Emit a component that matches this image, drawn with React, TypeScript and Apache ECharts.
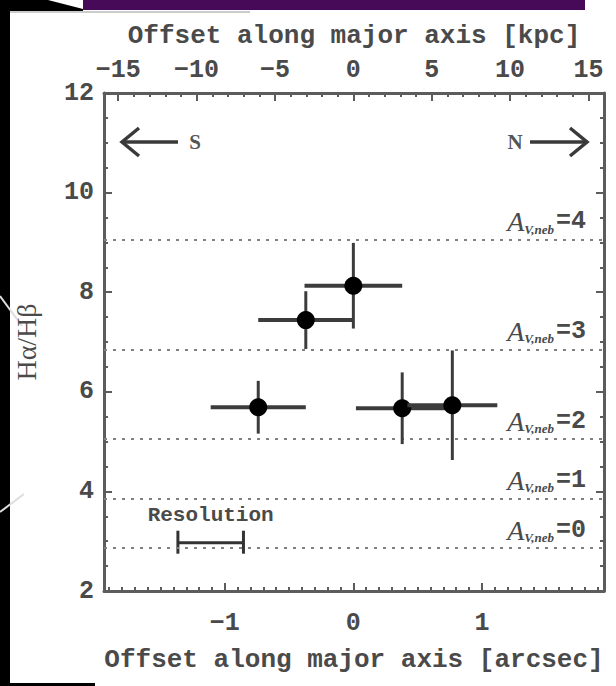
import React, { useEffect, useRef } from "react";
import * as echarts from "echarts";

// Axis ranges (arcsec along the major axis) and the angular scale
const arcsecMin = -1.94;
const arcsecMax = 1.95;
const kpcPerArcsec = 8.2;
const ratioMin = 2;
const ratioMax = 12;

// Balmer decrement measured in each aperture along the major axis
const offsetArcsec = [-0.74, -0.37, 0.0, 0.38, 0.77];
const offsetErr = [0.37, 0.37, 0.38, 0.36, 0.35];
const balmerRatio = [5.69, 7.44, 8.13, 5.67, 5.73];
const balmerErr = [0.53, 0.58, 0.86, 0.72, 1.1];

// Hα/Hβ expected for a given nebular extinction
const avLevels = [0, 1, 2, 3, 4];
const avRatio = [2.86, 3.86, 5.05, 6.85, 9.05];

// Spatial resolution (FWHM, arcsec) drawn as a scale bar
const resolutionFwhm = 0.51;
const resolutionCenter = -1.11;
const resolutionLevel = 2.97;

// Tick positions
const arcsecMajorTicks = [-1, 0, 1];
const arcsecMinorTicks = Array.from({ length: 39 }, (_, i) => Math.round((i - 19) * 10) / 100);
const kpcMajorTicks = [-15, -10, -5, 0, 5, 10, 15];
const kpcMinorTicks = Array.from({ length: 31 }, (_, i) => i - 15);

const MONO = "'Liberation Mono', 'DejaVu Sans Mono', monospace";
const SERIF = "'Liberation Serif', 'DejaVu Serif', serif";
const AXIS_COLOR = "#5c5c5c";
const TEXT_COLOR = "#4a4a4a";

const fmtSigned = (v: number) => (v < 0 ? "\u2212" + Math.abs(v) : String(v));

export default function App() {
  const ref = useRef<HTMLDivElement>(null);

  useEffect(() => {
    if (!ref.current) return;
    const chart = echarts.init(ref.current, null, { renderer: "svg" });

    const axisLine = { show: true, onZero: false, lineStyle: { color: AXIS_COLOR, width: 3 } };
    const noLine = { show: false, onZero: false };
    const hiddenLabel = { show: false };
    const labelFont = { fontFamily: MONO, fontSize: 25, fontWeight: "bold" as const, color: TEXT_COLOR };
    const titleFont = { fontFamily: MONO, fontSize: 26, fontWeight: "bold" as const, color: TEXT_COLOR };

    const points = offsetArcsec.map((x, i) => [x, balmerRatio[i], offsetErr[i], balmerErr[i]]);

    const option: echarts.EChartsOption = {
      animation: false,
      backgroundColor: "#fff",
      grid: { left: 104, top: 93, right: 12, bottom: 95, containLabel: false },
      xAxis: [
        {
          type: "value",
          position: "bottom",
          min: arcsecMin,
          max: arcsecMax,
          axisLine,
          splitLine: { show: false },
          axisTick: {
            show: true,
            inside: true,
            length: 8,
            customValues: arcsecMajorTicks,
            lineStyle: { color: AXIS_COLOR, width: 2 },
          },
          axisLabel: {
            show: true,
            customValues: arcsecMajorTicks,
            formatter: (v: number) => fmtSigned(v),
            margin: 20,
            ...labelFont,
          },
          name: "Offset along major axis [arcsec]",
          nameLocation: "middle",
          nameGap: 56,
          nameTextStyle: titleFont,
        },
        {
          type: "value",
          position: "top",
          min: arcsecMin * kpcPerArcsec,
          max: arcsecMax * kpcPerArcsec,
          axisLine,
          splitLine: { show: false },
          axisTick: {
            show: true,
            inside: true,
            length: 8,
            customValues: kpcMajorTicks,
            lineStyle: { color: AXIS_COLOR, width: 2 },
          },
          axisLabel: {
            show: true,
            customValues: kpcMajorTicks,
            formatter: (v: number) => fmtSigned(v),
            margin: 10,
            ...labelFont,
          },
          name: "Offset along major axis [kpc]",
          nameLocation: "middle",
          nameGap: 44,
          nameTextStyle: titleFont,
        },
        {
          type: "value",
          position: "bottom",
          min: arcsecMin,
          max: arcsecMax,
          axisLine: noLine,
          splitLine: { show: false },
          axisTick: {
            show: true,
            inside: true,
            length: 4,
            customValues: arcsecMinorTicks,
            lineStyle: { color: AXIS_COLOR, width: 2 },
          },
          axisLabel: hiddenLabel,
        },
        {
          type: "value",
          position: "top",
          min: arcsecMin * kpcPerArcsec,
          max: arcsecMax * kpcPerArcsec,
          axisLine: noLine,
          splitLine: { show: false },
          axisTick: {
            show: true,
            inside: true,
            length: 4,
            customValues: kpcMinorTicks,
            lineStyle: { color: AXIS_COLOR, width: 2 },
          },
          axisLabel: hiddenLabel,
        },
      ],
      yAxis: [
        {
          type: "value",
          position: "left",
          min: ratioMin,
          max: ratioMax,
          interval: 2,
          axisLine,
          splitLine: { show: false },
          axisTick: { show: true, inside: true, length: 8, lineStyle: { color: AXIS_COLOR, width: 2 } },
          minorTick: { show: true, splitNumber: 4, length: 4, lineStyle: { color: AXIS_COLOR, width: 2 } },
          minorSplitLine: { show: false },
          axisLabel: { show: true, margin: 10, ...labelFont },
          name: "H\u03b1/H\u03b2",
          nameLocation: "middle",
          nameRotate: 90,
          nameGap: 64,
          nameTextStyle: { fontFamily: SERIF, fontSize: 28, color: TEXT_COLOR },
        },
        {
          type: "value",
          position: "right",
          min: ratioMin,
          max: ratioMax,
          interval: 2,
          axisLine,
          splitLine: { show: false },
          axisTick: { show: true, inside: true, length: 8, lineStyle: { color: AXIS_COLOR, width: 2 } },
          minorTick: { show: true, splitNumber: 4, length: 4, lineStyle: { color: AXIS_COLOR, width: 2 } },
          minorSplitLine: { show: false },
          axisLabel: hiddenLabel,
        },
      ],
      series: [
        {
          type: "custom",
          name: "Balmer decrement",
          xAxisIndex: 0,
          yAxisIndex: 0,
          encode: { x: 0, y: 1 },
          data: points,
          z: 5,
          renderItem: (_params: any, api: any) => {
            const x = api.value(0);
            const y = api.value(1);
            const dx = api.value(2);
            const dy = api.value(3);
            const c = api.coord([x, y]);
            const l = api.coord([x - dx, y]);
            const r = api.coord([x + dx, y]);
            const t = api.coord([x, y + dy]);
            const b = api.coord([x, y - dy]);
            return {
              type: "group",
              children: [
                {
                  type: "line",
                  shape: { x1: l[0], y1: l[1], x2: r[0], y2: r[1] },
                  style: { stroke: "#3c3c3c", lineWidth: 4 },
                },
                {
                  type: "line",
                  shape: { x1: t[0], y1: t[1], x2: b[0], y2: b[1] },
                  style: { stroke: "#3c3c3c", lineWidth: 3 },
                },
                { type: "circle", shape: { cx: c[0], cy: c[1], r: 9 }, style: { fill: "#000" } },
              ],
            };
          },
          markLine: {
            silent: true,
            symbol: ["none", "none"],
            lineStyle: { type: [3, 6], color: "#808080", width: 2 },
            label: {
              show: true,
              position: "insideEndTop",
              distance: 4,
              padding: [0, 14, 0, 0],
              rich: {
                a: { fontFamily: SERIF, fontStyle: "italic", fontSize: 28, color: TEXT_COLOR, lineHeight: 28, verticalAlign: "middle" },
                s: { fontFamily: SERIF, fontStyle: "italic", fontWeight: "bold", fontSize: 13, color: TEXT_COLOR, lineHeight: 12, verticalAlign: "bottom", padding: [0, 2, 0, 0] },
                e: { fontFamily: MONO, fontSize: 25, fontWeight: "bold", color: TEXT_COLOR, lineHeight: 28, verticalAlign: "middle" },
              },
            },
            data: avLevels.map((av, i) => ({
              yAxis: avRatio[i],
              label: { formatter: `{a|A}{s|V,neb}{e|=${av}}` },
            })),
          },
        },
        {
          type: "custom",
          name: "Resolution",
          xAxisIndex: 0,
          yAxisIndex: 0,
          encode: { x: 0, y: 1 },
          data: [[resolutionCenter, resolutionLevel, resolutionFwhm]],
          z: 4,
          renderItem: (_params: any, api: any) => {
            const cx = api.value(0);
            const y = api.value(1);
            const w = api.value(2);
            const l = api.coord([cx - w / 2, y]);
            const r = api.coord([cx + w / 2, y]);
            const stroke = { stroke: "#333", lineWidth: 3 };
            return {
              type: "group",
              children: [
                { type: "line", shape: { x1: l[0], y1: l[1], x2: r[0], y2: r[1] }, style: stroke },
                { type: "line", shape: { x1: l[0], y1: l[1] - 12, x2: l[0], y2: l[1] + 11 }, style: stroke },
                { type: "line", shape: { x1: r[0], y1: r[1] - 12, x2: r[0], y2: r[1] + 11 }, style: stroke },
                {
                  type: "text",
                  style: {
                    text: "Resolution",
                    x: (l[0] + r[0]) / 2,
                    y: l[1] - 27,
                    align: "center",
                    verticalAlign: "middle",
                    font: `bold 21px ${MONO}`,
                    fill: TEXT_COLOR,
                  },
                },
              ],
            };
          },
        },
      ],
      graphic: [
        // Direction markers
        { type: "line", shape: { x1: 123, y1: 142, x2: 178, y2: 142 }, style: { stroke: "#3a3a3a", lineWidth: 3.5 } },
        { type: "polyline", shape: { points: [[139, 128], [122, 142], [139, 156]] }, style: { stroke: "#3a3a3a", lineWidth: 3.5, fill: null } },
        { type: "text", x: 195, y: 142, style: { text: "S", align: "center", verticalAlign: "middle", font: `bold 21px ${SERIF}`, fill: "#555" } },
        { type: "line", shape: { x1: 530, y1: 142, x2: 586, y2: 142 }, style: { stroke: "#3a3a3a", lineWidth: 3.5 } },
        { type: "polyline", shape: { points: [[570, 128], [587, 142], [570, 156]] }, style: { stroke: "#3a3a3a", lineWidth: 3.5, fill: null } },
        { type: "text", x: 515, y: 142, style: { text: "N", align: "center", verticalAlign: "middle", font: `bold 21px ${SERIF}`, fill: "#555" } },
        // Slide frame around the figure
        { type: "rect", shape: { x: 0, y: 0, width: 10, height: 683 }, style: { fill: "#000" } },
        { type: "rect", shape: { x: 0, y: 683, width: 95, height: 3 }, style: { fill: "#000" } },
        { type: "polygon", shape: { points: [[0, 0], [48, 0], [83, 9], [83, 11], [0, 11]] }, style: { fill: "#000" } },
        { type: "rect", shape: { x: 83, y: 0, width: 502, height: 10 }, style: { fill: "#470a58" } },
        { type: "line", shape: { x1: 10, y1: 12, x2: 250, y2: 12 }, style: { stroke: "#999", lineWidth: 1 } },
        { type: "line", shape: { x1: 0, y1: 296, x2: 22, y2: 326 }, style: { stroke: "#ddd", lineWidth: 2 } },
        { type: "line", shape: { x1: 0, y1: 512, x2: 24, y2: 494 }, style: { stroke: "#ddd", lineWidth: 2 } },
      ],
    };

    chart.setOption(option);
    return () => chart.dispose();
  }, []);

  return (
    <div
      ref={ref}
      style={{ position: "fixed", left: 0, top: 0, width: 616, height: 686, background: "#fff" }}
    />
  );
}
